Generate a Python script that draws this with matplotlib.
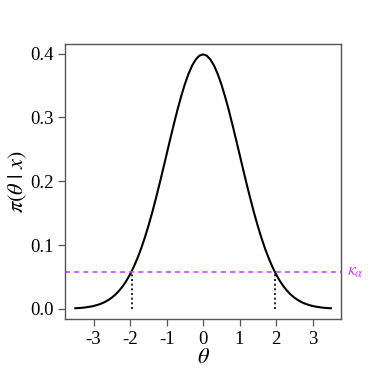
import matplotlib
matplotlib.use("Agg")
import matplotlib.pyplot as plt
import matplotlib.transforms as mtransforms

plt.rcParams['font.family'] = ['Liberation Serif', 'DejaVu Serif']
plt.rcParams['mathtext.fontset'] = 'stix'
plt.rcParams['axes.unicode_minus'] = False

# posterior density, theta from -3.5 to 3.5 by 0.1
theta = [-3.5, -3.4, -3.3, -3.2, -3.1, -3.0, -2.9, -2.8, -2.7, -2.6, -2.5, -2.4,
         -2.3, -2.2, -2.1, -2.0, -1.9, -1.8, -1.7, -1.6, -1.5, -1.4, -1.3, -1.2,
         -1.1, -1.0, -0.9, -0.8, -0.7, -0.6, -0.5, -0.4, -0.3, -0.2, -0.1, 0.0,
         0.1, 0.2, 0.3, 0.4, 0.5, 0.6, 0.7, 0.8, 0.9, 1.0, 1.1, 1.2, 1.3, 1.4,
         1.5, 1.6, 1.7, 1.8, 1.9, 2.0, 2.1, 2.2, 2.3, 2.4, 2.5, 2.6, 2.7, 2.8,
         2.9, 3.0, 3.1, 3.2, 3.3, 3.4, 3.5]
dens = [0.0009, 0.0012, 0.0017, 0.0024, 0.0033, 0.0044, 0.0060, 0.0079, 0.0104,
        0.0136, 0.0175, 0.0224, 0.0283, 0.0355, 0.0440, 0.0540, 0.0656, 0.0790,
        0.0940, 0.1109, 0.1295, 0.1497, 0.1714, 0.1942, 0.2179, 0.2420, 0.2661,
        0.2897, 0.3123, 0.3332, 0.3521, 0.3683, 0.3814, 0.3910, 0.3970, 0.3989,
        0.3970, 0.3910, 0.3814, 0.3683, 0.3521, 0.3332, 0.3123, 0.2897, 0.2661,
        0.2420, 0.2179, 0.1942, 0.1714, 0.1497, 0.1295, 0.1109, 0.0940, 0.0790,
        0.0656, 0.0540, 0.0440, 0.0355, 0.0283, 0.0224, 0.0175, 0.0136, 0.0104,
        0.0079, 0.0060, 0.0044, 0.0033, 0.0024, 0.0017, 0.0012, 0.0009]
cut_theta = [-1.96, 1.96]
kappa = 0.0584
xticks = [-3, -2, -1, 0, 1, 2, 3]
yticks = [0.0, 0.1, 0.2, 0.3, 0.4]

magenta = '#CC44FF'
edge = '#555555'

fig = plt.figure(figsize=(3.74, 3.74), dpi=100)
ax = fig.add_axes([0.174, 0.147, 0.738, 0.735])

ax.plot(theta, dens, color='black', lw=1.5)
ax.axhline(kappa, color=magenta, lw=1.2, dashes=(3, 2.5))
for t in cut_theta:
    ax.plot([t, t], [0, kappa], color='black', lw=1.2, dashes=(1.2, 1.6))

trans = mtransforms.blended_transform_factory(ax.transAxes, ax.transData)
ax.text(1.02, kappa, r'$\kappa_\alpha$', transform=trans, color=magenta,
        fontsize=13, ha='left', va='center', clip_on=False)

ax.set_xlim(-3.78, 3.78)
ax.set_ylim(-0.016, 0.415)
ax.set_xticks(xticks)
ax.set_xticklabels([str(v) for v in xticks])
ax.set_yticks(yticks)
ax.set_yticklabels(['%.1f' % v for v in yticks])
ax.tick_params(labelsize=13.5, length=5, width=0.9, color=edge, direction='out')
for s in ax.spines.values():
    s.set_color(edge)
    s.set_linewidth(1.0)

ax.set_xlabel(r'$\theta$', fontsize=16, labelpad=1)
ax.set_ylabel(r'$\pi\left(\theta\ |\ x\right)$', fontsize=16)
ax.yaxis.set_label_coords(-0.132, 0.5)

fig.savefig('out.png', dpi=100)
